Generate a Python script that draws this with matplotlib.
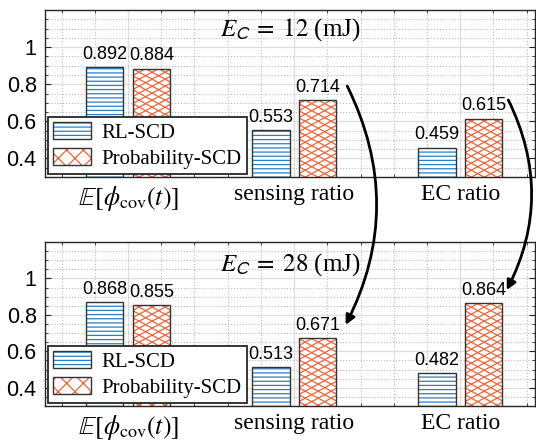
import matplotlib
matplotlib.use('Agg')
import matplotlib.pyplot as plt
from matplotlib.patches import ConnectionPatch, Rectangle
from matplotlib.collections import LineCollection
from matplotlib.ticker import MultipleLocator
import numpy as np

plt.rcParams['mathtext.fontset'] = 'stix'
plt.rcParams['hatch.linewidth'] = 0.9

# data
categories = [r'$\mathbb{E}[\phi_{\mathrm{cov}}(t)]$', 'sensing ratio', 'EC ratio']
series = ['RL-SCD', 'Probability-SCD']
energy = [12, 28]
rl_scd = [[0.892, 0.553, 0.459], [0.868, 0.513, 0.482]]
prob_scd = [[0.884, 0.714, 0.615], [0.855, 0.671, 0.864]]
yticks = [0.4, 0.6, 0.8, 1.0]
yticklabels = ['0.4', '0.6', '0.8', '1']

blue = '#2a7fc4'
orange = '#e8643a'
edge = '#333333'
width = 0.225
off = 0.14
ymin, ymax = 0.3, 1.2


def diamond_hatch(ax, patch, w=13.0, h=7.0, color=orange, lw=0.9):
    # flattened cross hatch (wider than tall), clipped to the visible part of the bar
    bx, bw, top = patch.get_x(), patch.get_width(), patch.get_y() + patch.get_height()
    clip = Rectangle((bx, ymin), bw, top - ymin, transform=ax.transData)
    bb = patch.get_window_extent()
    x0, x1 = bb.x0 - 40, bb.x1 + 40
    k = h / w
    segs = []
    for sgn in (1, -1):
        for c in np.arange(bb.y0 - 200, bb.y1 + 200, h):
            p = np.array([[x0, c + sgn * k * (x0 - bb.x0)], [x1, c + sgn * k * (x1 - bb.x0)]])
            segs.append(ax.transData.inverted().transform(p))
    lc = LineCollection(segs, colors=color, linewidths=lw, zorder=2)
    ax.add_collection(lc, autolim=False)
    lc.set_clip_path(clip)
    return lc


fig = plt.figure(figsize=(5.36, 4.41), dpi=100)
ax1 = fig.add_axes([0.084, 0.5986, 0.914, 0.3787])
ax2 = fig.add_axes([0.084, 0.0794, 0.914, 0.3719])

x = np.arange(1, len(categories) + 1)

for ax, ec, rl, pr, ylab in [(ax1, energy[0], rl_scd[0], prob_scd[0], 0.885),
                             (ax2, energy[1], rl_scd[1], prob_scd[1], 0.865)]:
    ax.set_xlim(0.5, 3.45)
    ax.set_ylim(ymin, ymax)

    # hatch layer then outline layer
    h1 = ax.bar(x - off, rl, width, color='white', edgecolor=blue, hatch='----', linewidth=0, zorder=2)
    h2 = ax.bar(x + off, pr, width, color='white', linewidth=0, zorder=2)
    e1 = ax.bar(x - off, rl, width, facecolor='none', edgecolor=edge, linewidth=1, zorder=3)
    e2 = ax.bar(x + off, pr, width, facecolor='none', edgecolor=edge, linewidth=1, zorder=3)
    for p in h2.patches:
        diamond_hatch(ax, p)
    ax.bar_label(e1, fmt='%.3f', padding=3, fontsize=13, family='Liberation Sans')
    ax.bar_label(e2, fmt='%.3f', padding=3, fontsize=13, family='Liberation Sans')

    ax.set_xticks(x)
    ax.set_xticklabels(categories, family='Liberation Serif', fontsize=17)
    ax.get_xticklabels()[0].set_fontsize(18.5)
    ax.set_yticks(yticks)
    ax.set_yticklabels(yticklabels, family='Liberation Sans', fontsize=15.5)
    ax.xaxis.set_minor_locator(MultipleLocator(0.2))
    ax.yaxis.set_minor_locator(MultipleLocator(0.05))
    ax.tick_params(which='both', direction='in', top=True, right=True, color='#262626')
    ax.tick_params(which='major', length=4, pad=6)
    ax.tick_params(which='minor', length=2)
    ax.tick_params(axis='x', which='major', length=0, pad=5)
    ax.grid(True, which='major', color='#dddddd', linewidth=0.9, zorder=0)
    ax.grid(True, which='minor', color='#bbbbbb', linestyle=':', linewidth=0.8, zorder=0)
    ax.set_axisbelow(True)
    for s in ax.spines.values():
        s.set_color('#262626')
        s.set_linewidth(1)

    ax.text(0.5, ylab, r'$E_{\mathsf{C}}\;=\;%d$ (mJ)' % ec, transform=ax.transAxes,
            ha='center', va='center', fontsize=18, family='Liberation Serif')

    # legend sample for the flattened cross hatch
    lh2 = Rectangle((0, 0), 1, 1, facecolor='white', edgecolor=orange, hatch='xx', linewidth=0)
    leg = ax.legend([(h1.patches[0], e1.patches[0]), (lh2, e2.patches[0])], series,
                    loc='lower left', borderaxespad=0.15, fancybox=False, framealpha=1,
                    edgecolor='#262626', handlelength=1.8, handleheight=0.85,
                    borderpad=0.25, labelspacing=0.25, handletextpad=0.5,
                    prop={'family': 'Liberation Serif', 'size': 15})
    leg.get_frame().set_linewidth(1.3)
    leg.set_zorder(5)

# curved arrows linking the two panels
for i, yoff_a, yoff_b, xa in [(1, 0.076, 0.074, 0.32), (2, 0.10, 0.072, 0.29)]:
    con = ConnectionPatch(xyA=(x[i] + xa, prob_scd[0][i] + yoff_a), coordsA=ax1.transData,
                          xyB=(x[i] + xa - 0.01, prob_scd[1][i] + yoff_b), coordsB=ax2.transData,
                          arrowstyle='-|>', connectionstyle='arc3,rad=-0.25',
                          color='black', linewidth=2, mutation_scale=14)
    fig.add_artist(con)

fig.savefig('out.png', dpi=100)
